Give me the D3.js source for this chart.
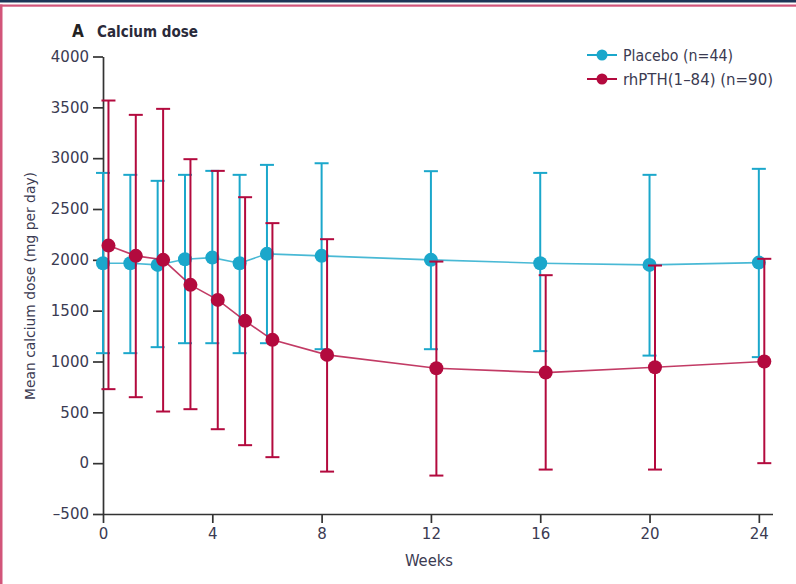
<!DOCTYPE html>
<html>
<head>
<meta charset="utf-8">
<script src="https://cdn.jsdelivr.net/npm/d3@7"></script>
<style>
  html, body { margin: 0; padding: 0; background: #fff; }
  svg { display: block; }
</style>
</head>
<body>
<svg id="chart" width="796" height="584"></svg>
<script>
// ---- data ----
const weeks = [0, 1, 2, 3, 4, 5, 6, 8, 12, 16, 20, 24];
const placeboMean = [1967, 1967, 1950, 2006, 2022, 1967, 2059, 2039, 2000, 1967, 1950, 1973];
const placeboLow  = [1082, 1082, 1141, 1180, 1180, 1082, 1180, 1121, 1121, 1102, 1058, 1043];
const placeboHigh = [2855, 2836, 2777, 2836, 2875, 2836, 2934, 2950, 2872, 2855, 2836, 2895];
const rhMean = [2140, 2039, 2000, 1754, 1606, 1400, 1213, 1065, 934, 891, 944, 1000];
const rhLow  = [728, 649, 508, 531, 334, 177, 59, -83, -122, -63, -63, 0];
const rhHigh = [3567, 3426, 3485, 2990, 2875, 2616, 2361, 2203, 1983, 1849, 1944, 2010];
const xTicks = [0, 4, 8, 12, 16, 20, 24];
const yTicks = [-500, 0, 500, 1000, 1500, 2000, 2500, 3000, 3500, 4000];
const seriesNames = ["Placebo (n=44)", "rhPTH(1\u201384) (n=90)"];
const panelLetter = "A";
const panelTitle = "Calcium dose";
const xTitle = "Weeks";
const yTitle = "Mean calcium dose (mg per day)";

// ---- styles ----
const cyan = "#1ba7cb";
const crimson = "#b30a3e";
const textCol = "#3b3b52";
const font = "'DejaVu Sans', sans-serif";
const cfont = "'DejaVu Sans Condensed', 'Liberation Sans Narrow', sans-serif";
const dodge = [0, 0.2];

const svg = d3.select("#chart");

// frame
svg.append("rect").attr("x", 0).attr("y", 0).attr("width", 796).attr("height", 2.5).attr("fill", "#1d3557");
svg.append("rect").attr("x", 0).attr("y", 4.5).attr("width", 796).attr("height", 2.2).attr("fill", "#d2557a");
svg.append("rect").attr("x", 0).attr("y", 4.5).attr("width", 2.5).attr("height", 580).attr("fill", "#d2557a");

const x = d3.scaleLinear().domain([0, 24.5]).range([103, 772.5]);
const y = d3.scaleLinear().domain([-500, 4000]).range([514, 56.5]);

// axes
const yAxis = svg.append("g").attr("transform", "translate(103,0)")
  .call(d3.axisLeft(y).tickValues(yTicks).tickSize(10).tickPadding(4).tickSizeOuter(0));
const xAxis = svg.append("g").attr("transform", "translate(0,514)")
  .call(d3.axisBottom(x).tickValues(xTicks).tickSize(9).tickPadding(5).tickSizeOuter(0));
[xAxis, yAxis].forEach(g => {
  g.select(".domain").attr("stroke", "#333").attr("stroke-width", 1.7);
  g.selectAll(".tick line").attr("stroke", "#333").attr("stroke-width", 1.7);
  g.selectAll(".tick text").attr("fill", textCol).attr("font-family", font).attr("font-size", 15);
});
yAxis.selectAll(".tick text").text(d => d < 0 ? "\u2013" + Math.abs(d) : d);

// series
const series = [
  { color: cyan, mean: placeboMean, low: placeboLow, high: placeboHigh, dx: dodge[0] },
  { color: crimson, mean: rhMean, low: rhLow, high: rhHigh, dx: dodge[1] }
];

const capW = 14;
series.forEach(s => {
  const g = svg.append("g");
  const pts = weeks.map((w, i) => ({ w: w + s.dx, m: s.mean[i], lo: s.low[i], hi: s.high[i] }));
  pts.forEach(p => {
    g.append("line").attr("x1", x(p.w)).attr("x2", x(p.w)).attr("y1", y(p.lo)).attr("y2", y(p.hi))
      .attr("stroke", s.color).attr("stroke-width", 2);
    [p.lo, p.hi].forEach(v => {
      g.append("line").attr("x1", x(p.w) - capW / 2).attr("x2", x(p.w) + capW / 2)
        .attr("y1", y(v)).attr("y2", y(v)).attr("stroke", s.color).attr("stroke-width", 2);
    });
  });
  g.append("path").datum(pts)
    .attr("d", d3.line().x(p => x(p.w)).y(p => y(p.m)))
    .attr("fill", "none").attr("stroke", s.color).attr("stroke-width", 1.6).attr("opacity", 0.8);
  g.selectAll("circle").data(pts).enter().append("circle")
    .attr("cx", p => x(p.w)).attr("cy", p => y(p.m)).attr("r", 7).attr("fill", s.color);
});

// titles
svg.append("text").attr("x", 72).attr("y", 37).attr("font-family", cfont).attr("font-weight", "bold")
  .attr("font-size", 17).attr("fill", "#222").text(panelLetter);
svg.append("text").attr("x", 97).attr("y", 37).attr("font-family", cfont).attr("font-weight", "bold")
  .attr("font-size", 15).attr("fill", "#2a2a3a").attr("textLength", 101).attr("lengthAdjust", "spacingAndGlyphs").text(panelTitle);
svg.append("text").attr("x", 405).attr("y", 566)
  .attr("font-family", cfont).attr("font-size", 15).attr("fill", textCol)
  .attr("textLength", 48).attr("lengthAdjust", "spacingAndGlyphs").text(xTitle);
svg.append("text").attr("transform", "translate(35,400) rotate(-90)")
  .attr("font-family", cfont).attr("font-size", 14).attr("fill", textCol)
  .attr("textLength", 228).attr("lengthAdjust", "spacingAndGlyphs").text(yTitle);

// legend
const legW = [110, 150];
const leg = svg.append("g");
series.forEach((s, i) => {
  const ly = 55 + i * 24;
  leg.append("line").attr("x1", 587).attr("x2", 617).attr("y1", ly).attr("y2", ly)
    .attr("stroke", s.color).attr("stroke-width", 2);
  leg.append("circle").attr("cx", 602).attr("cy", ly).attr("r", 5.5).attr("fill", s.color);
  leg.append("text").attr("x", 623).attr("y", ly + 5.5).attr("font-family", cfont).attr("font-size", 15)
    .attr("fill", textCol).attr("textLength", legW[i]).attr("lengthAdjust", "spacingAndGlyphs").text(seriesNames[i]);
});
</script>
</body>
</html>
